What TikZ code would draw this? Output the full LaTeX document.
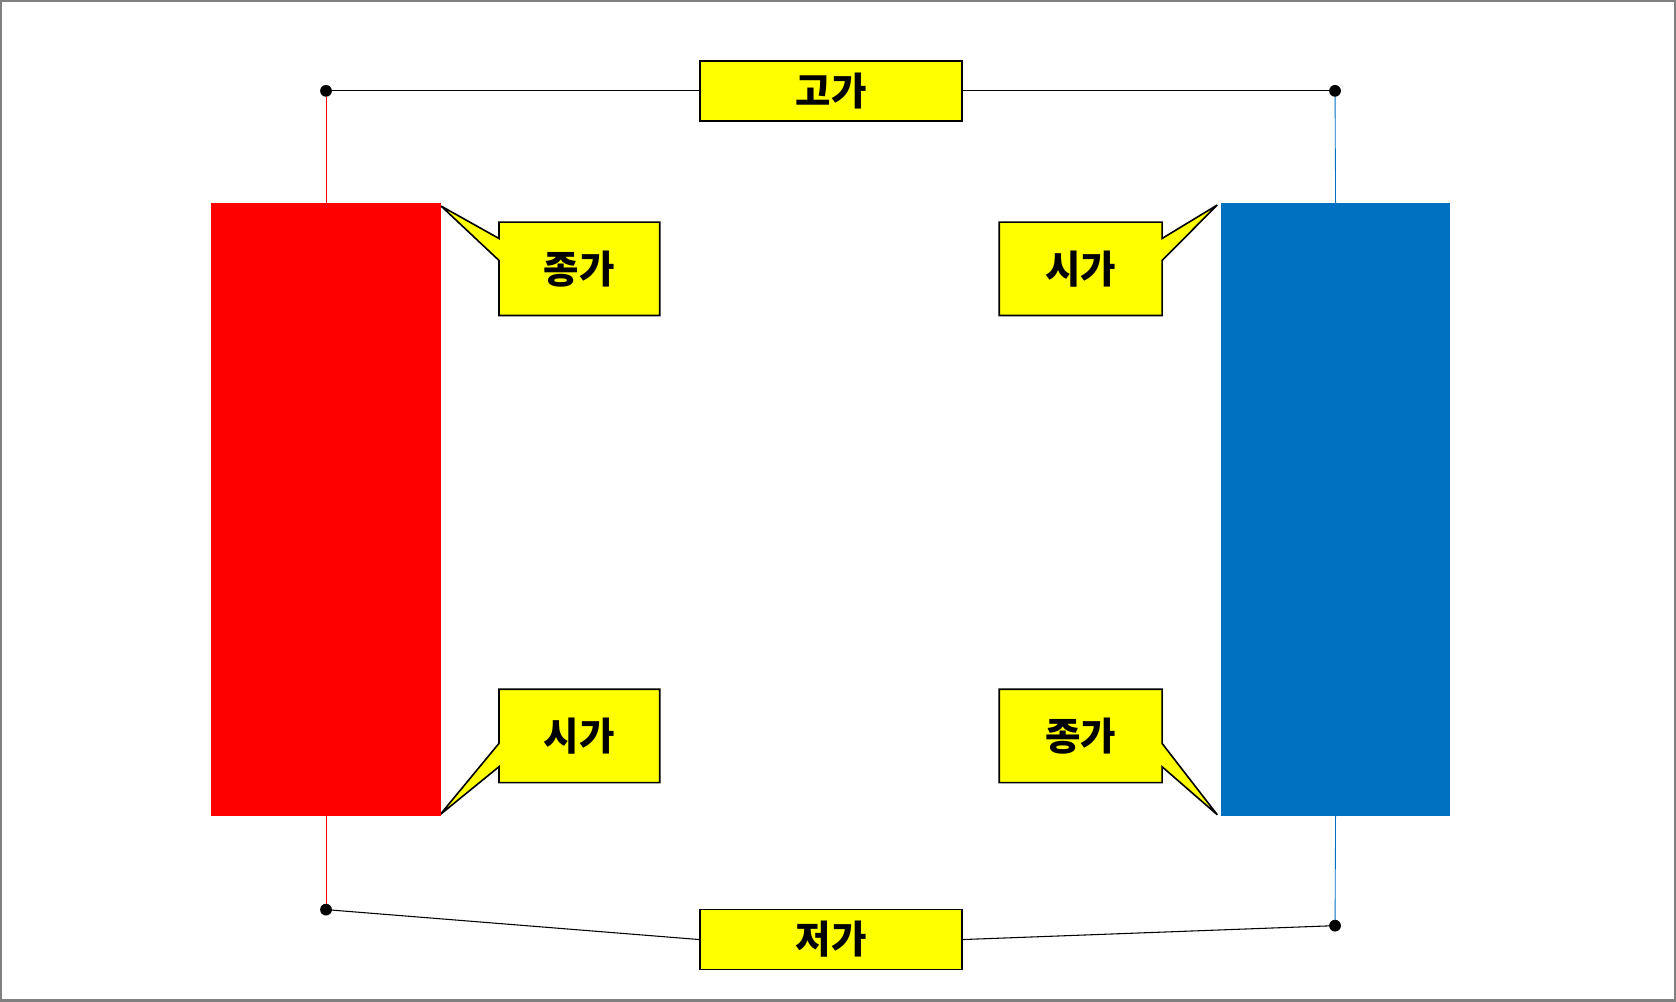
\documentclass[tikz,border=0pt]{standalone}
\usepackage{fontspec}
\newfontfamily\kr{Noto Sans CJK KR}
\usetikzlibrary{backgrounds,calc}
\definecolor{cblue}{HTML}{0070C0}
\definecolor{cyel}{HTML}{FFFF00}
\definecolor{frame}{HTML}{808080}
\pgfdeclarelayer{mid}
\pgfsetlayers{background,mid,main}
\begin{document}
\begin{tikzpicture}[x=1pt,y=-1pt,
  lbl/.style={font=\kr\bfseries\fontsize{36}{36}\selectfont, inner sep=0pt},
  tag/.style={lbl, draw=black, fill=cyel, line width=1.5pt, minimum width=245pt, minimum height=56pt},
  calltext/.style={lbl, minimum height=87pt},
  callout/.style={fill=cyel, draw=black, line width=1.5pt, line join=miter, miter limit=4},
  dot/.style={circle, fill=black, inner sep=0pt, minimum size=11pt},
  candle/.style={inner sep=0pt, minimum width=215pt, minimum height=573pt},
  conn/.style={black, line width=1pt}]
\useasboundingbox (0,0) rectangle (1568,937);
\draw[frame, line width=2pt] (1,1) rectangle (1567,936);

\node[candle, fill=red] (red) at (305,476.5) {};
\node[candle, fill=cblue] (blue) at (1249.5,476.5) {};

\node[dot] (lh) at (305,85) {};
\node[dot] (rh) at (1249,85) {};
\node[dot] (ll) at (305,851) {};
\node[dot] (rl) at (1249,866) {};

\node[tag] (high) at (777.5,85) {고가};
\node[tag] (low) at (777.5,879) {저가};

\node[calltext, minimum width=150pt] (c1) at (542,251.5) {종가};
\node[calltext, minimum width=152pt] (c2) at (1011,251.5) {시가};
\node[calltext, minimum width=150pt] (c3) at (542,688.5) {시가};
\node[calltext, minimum width=152pt] (c4) at (1011,688.5) {종가};

\begin{pgfonlayer}{background}
\draw[conn] (lh.center) -- (high.west);
\draw[conn] (high.east) -- (rh.center);
\draw[conn] (ll.center) -- (low.west);
\draw[conn] (low.east) -- (rl.center);
\draw[red, line width=0.8pt] (lh.center) -- (red.north);
\draw[red, line width=0.8pt] (red.south) -- (ll.center);
\draw[cblue, line width=0.8pt] (rh.center) -- (blue.north);
\draw[cblue, line width=0.8pt] (blue.south) -- (rl.center);
\end{pgfonlayer}

\begin{pgfonlayer}{mid}
\draw[callout] (c1.north west) -- (c1.north east) -- (c1.south east) -- (c1.south west)
  -- ($(c1.north west)!0.41!(c1.south west)$) -- ($(red.north east)+(0,3)$)
  -- ($(c1.north west)!0.175!(c1.south west)$) -- cycle;
\draw[callout] (c2.north west) -- (c2.north east)
  -- ($(c2.north east)!0.175!(c2.south east)$) -- ($(blue.north west)+(-3,2)$)
  -- ($(c2.north east)!0.41!(c2.south east)$) -- (c2.south east) -- (c2.south west) -- cycle;
\draw[callout] (c3.north west) -- (c3.north east) -- (c3.south east) -- (c3.south west)
  -- ($(c3.north west)!0.83!(c3.south west)$) -- ($(red.south east)+(-1,-1)$)
  -- ($(c3.north west)!0.58!(c3.south west)$) -- cycle;
\draw[callout] (c4.north west) -- (c4.north east)
  -- ($(c4.north east)!0.58!(c4.south east)$) -- ($(blue.south west)+(-3,-1)$)
  -- ($(c4.north east)!0.83!(c4.south east)$) -- (c4.south east) -- (c4.south west) -- cycle;
\end{pgfonlayer}
\end{tikzpicture}
\end{document}
